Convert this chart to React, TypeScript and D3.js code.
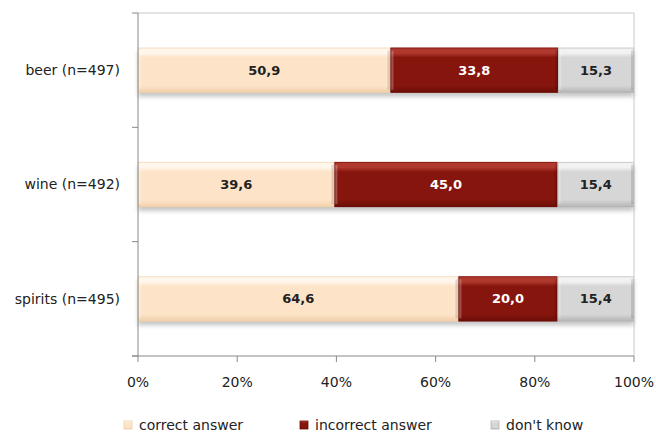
import React from 'react';
import * as d3 from 'd3';

// categories and series (percent)
const categories = ['beer (n=497)', 'wine (n=492)', 'spirits (n=495)'];
const seriesNames = ['correct answer', 'incorrect answer', "don't know"];
const correct = [50.9, 39.6, 64.6];
const incorrect = [33.8, 45.0, 20.0];
const dontKnow = [15.3, 15.4, 15.4];
const xTicks = [0, 20, 40, 60, 80, 100];

const colors = ['#FDE4C8', '#86150D', '#D6D6D6'];
const tops = ['#FFF6EC', '#B0392E', '#F2F2F2'];
const bottoms = ['#F0CFA9', '#6A0D07', '#B4B4B4'];
const textColors = ['#222', '#fff', '#222'];

const W = 656;
const H = 437;
const margin = { top: 13, right: 22, bottom: 81, left: 138 };

const App = () => {
  const innerW = W - margin.left - margin.right;
  const innerH = H - margin.top - margin.bottom;

  const x = d3.scaleLinear().domain([0, 100]).range([0, innerW]);
  const y = d3.scaleBand().domain(categories).range([0, innerH]).paddingInner(0.605).paddingOuter(0.3025);

  const values = [correct, incorrect, dontKnow];
  const rows = categories.map((c, i) => ({ cat: c, v: values.map((s) => s[i]) }));
  const stack = d3
    .stack<any>()
    .keys(['0', '1', '2'])
    .value((d, k) => d.v[+k]);
  const stacked = stack(rows);

  const bw = y.bandwidth();
  const fmt = (v: number) => v.toFixed(1).replace('.', ',');
  const font = '"DejaVu Sans", Verdana, sans-serif';

  // category boundaries for the left axis ticks
  const yBounds = categories.map((c) => (y(c) as number) - (y.step() * y.paddingInner()) / 2).concat([innerH]);
  yBounds[0] = 0;

  const legendX = [124, 300, 491];

  return (
    <svg
      width={W}
      height={H}
      style={{ position: 'fixed', left: 0, top: 0, background: '#fff' }}
      fontFamily={font}
    >
      <defs>
        {colors.map((c, i) => (
          <linearGradient key={i} id={`g${i}`} x1="0" y1="0" x2="0" y2="1">
            <stop offset="0" stopColor={tops[i]} />
            <stop offset="0.12" stopColor={tops[i]} />
            <stop offset="0.22" stopColor={c} />
            <stop offset="0.84" stopColor={c} />
            <stop offset="1" stopColor={bottoms[i]} />
          </linearGradient>
        ))}
        <filter id="shadow" x="-5%" y="-30%" width="110%" height="160%">
          <feGaussianBlur stdDeviation="2" />
        </filter>
      </defs>
      <g transform={`translate(${margin.left},${margin.top})`}>
        {/* plot frame */}
        <line x1={0} x2={innerW} y1={0} y2={0} stroke="#C8C8C8" />
        <line x1={innerW} x2={innerW} y1={0} y2={innerH} stroke="#C8C8C8" />

        {/* shadows */}
        {categories.map((c) => (
          <rect
            key={c}
            x={x(0)}
            y={(y(c) as number) + 4}
            width={x(100) - x(0)}
            height={bw}
            fill="#999"
            opacity={0.55}
            filter="url(#shadow)"
          />
        ))}

        {/* bars */}
        {stacked.map((s, si) =>
          s.map((d, i) => {
            const x0 = x(d[0]);
            const x1 = x(d[1]);
            const yy = y(categories[i]) as number;
            return (
              <g key={`${si}-${i}`}>
                <rect x={x0} y={yy} width={x1 - x0} height={bw} fill={`url(#g${si})`} />
                {/* bevel sides */}
                <rect x={x0} y={yy + 3} width={3} height={bw - 6} fill="#fff" opacity={0.25} />
                <rect x={x1 - 3} y={yy + 3} width={3} height={bw - 6} fill="#000" opacity={0.12} />
                <rect x={x0 + 0.5} y={yy + 0.5} width={x1 - x0 - 1} height={bw - 1} fill="none" stroke={bottoms[si]} strokeOpacity={0.6} />
                <text
                  x={(x0 + x1) / 2}
                  y={yy + bw / 2}
                  dy="0.35em"
                  textAnchor="middle"
                  fontSize={13}
                  fontWeight="bold"
                  fill={textColors[si]}
                >
                  {fmt(values[si][i])}
                </text>
              </g>
            );
          })
        )}

        {/* left axis */}
        <line x1={0} x2={0} y1={0} y2={innerH} stroke="#888" />
        {yBounds.map((b, i) => (
          <line key={i} x1={-6} x2={0} y1={b} y2={b} stroke="#888" />
        ))}
        {categories.map((c) => (
          <text
            key={c}
            x={-18}
            y={(y(c) as number) + bw / 2}
            dy="0.35em"
            textAnchor="end"
            fontSize={14}
            fill="#222"
          >
            {c}
          </text>
        ))}

        {/* bottom axis */}
        <line x1={-6} x2={innerW} y1={innerH} y2={innerH} stroke="#888" />
        {xTicks.map((t) => (
          <g key={t} transform={`translate(${x(t)},${innerH})`}>
            <line y1={0} y2={6} stroke="#888" />
            <text y={26} dy="0.35em" textAnchor="middle" fontSize={14} fill="#222">
              {t}%
            </text>
          </g>
        ))}
      </g>

      {/* legend */}
      {seriesNames.map((n, i) => (
        <g key={n} transform={`translate(${legendX[i]},425)`}>
          <rect x={0} y={-4} width={8} height={8} fill={`url(#g${i})`} stroke={bottoms[i]} strokeWidth={0.8} />
          <text x={15} y={0} dy="0.35em" fontSize={14} fill="#222">
            {n}
          </text>
        </g>
      ))}
    </svg>
  );
};

export default App;
